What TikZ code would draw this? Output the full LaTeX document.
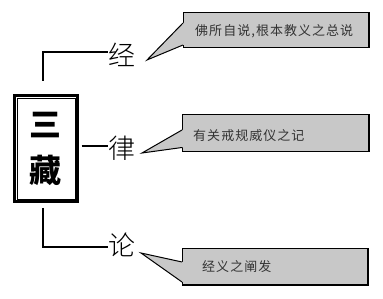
\documentclass[tikz,border=0pt]{standalone}
\usepackage{fontspec}
\newfontfamily\cjk{Noto Sans CJK SC}
\newfontfamily\cjklight{Noto Sans CJK SC Light}
\definecolor{callgray}{HTML}{C8C8C8}
\definecolor{calltext}{HTML}{333333}
\tikzset{
  bigchar/.style={inner sep=0pt, outer sep=0pt, font=\cjklight\fontsize{27}{27}\selectfont},
  titlechar/.style={inner sep=0pt, outer sep=0pt, font=\cjk\bfseries\fontsize{32}{32}\selectfont},
  callbox/.style={draw, line width=1pt, fill=callgray, inner sep=0pt, outer sep=0pt, anchor=north west},
  calltxt/.style={anchor=west, inner sep=0pt, text=calltext, font=\cjk\addfontfeatures{LetterSpace=8}\fontsize{13}{14}\selectfont},
  link/.style={line width=2pt},
  thinlink/.style={line width=1.1pt},
  pointer/.style={line width=1pt, line join=miter}
}
\begin{document}
\begin{tikzpicture}[x=1pt,y=-1pt]
\useasboundingbox (0,0) rectangle (383,299);

% title box
\node[draw, line width=3pt, outer sep=0pt, minimum width=63pt, minimum height=106pt] (box) at (46,148.5) {};
\draw[line width=0.8pt] ([shift={(2.5pt,-2.5pt)}]box.north west) rectangle ([shift={(-2.5pt,2.5pt)}]box.south east);
\node[titlechar] (san) at (45,125) {三};
\node[titlechar] (zang) at (45,170) {藏};

% branch labels
\node[bigchar, anchor=west] (jing) at (108,55) {经};
\node[bigchar, anchor=west] (lv) at (108,148) {律};
\node[bigchar, anchor=west] (lun) at (108,245) {论};

% connectors
\coordinate (a1) at (43,81);
\coordinate (a3) at (43,208);
\draw[link] (a1) |- ([yshift=3pt]jing.west);
\draw[link] ([shift={(4pt,2.5pt)}]box.east) -- ([yshift=2pt]lv.west);
\draw[thinlink] (a3) |- ([yshift=-2pt]lun.west);

% callouts
\node[callbox, minimum width=186pt, minimum height=35pt] (c1) at (183,13) {};
\node[callbox, minimum width=187pt, minimum height=37pt] (c2) at (182,115) {};
\node[callbox, minimum width=186pt, minimum height=36pt] (c3) at (182,249) {};

\coordinate (t1) at (147,60);
\coordinate (t2) at (142,153);
\coordinate (t3) at (141,253);

\fill[callgray] ([shift={(1.5pt,-10pt)}]c1.north west) -- ([yshift=-10pt]c1.north west) -- (t1) -- ([yshift=3pt]c1.south west) -- ([shift={(1.5pt,3pt)}]c1.south west) -- cycle;
\draw[pointer] ([yshift=-10pt]c1.north west) -- (t1) -- ([yshift=3pt]c1.south west);

\fill[callgray] ([shift={(1.5pt,-15pt)}]c2.north west) -- ([yshift=-15pt]c2.north west) -- (t2) -- ([yshift=4.5pt]c2.south west) -- ([shift={(1.5pt,4.5pt)}]c2.south west) -- cycle;
\draw[pointer] ([yshift=-15pt]c2.north west) -- (t2) -- ([yshift=4.5pt]c2.south west);

\fill[callgray] ([shift={(1.5pt,-13pt)}]c3.north west) -- ([yshift=-13pt]c3.north west) -- (t3) -- ([yshift=3pt]c3.south west) -- ([shift={(1.5pt,3pt)}]c3.south west) -- cycle;
\draw[pointer] ([yshift=-13pt]c3.north west) -- (t3) -- ([yshift=3pt]c3.south west);

% thicker right edges
\draw[line width=2.5pt] ([yshift=0.5pt]c1.north east) -- ([yshift=-0.5pt]c1.south east);
\draw[line width=2.5pt] ([yshift=0.5pt]c2.north east) -- ([yshift=-0.5pt]c2.south east);
\draw[line width=2.5pt] ([yshift=0.5pt]c3.north east) -- ([yshift=-0.5pt]c3.south east);

\node[calltxt] (d1) at (195,31) {佛所自说,根本教义之总说};
\node[calltxt] (d2) at (193,136) {有关戒规威仪之记};
\node[calltxt] (d3) at (202,267) {经义之阐发};
\end{tikzpicture}
\end{document}
